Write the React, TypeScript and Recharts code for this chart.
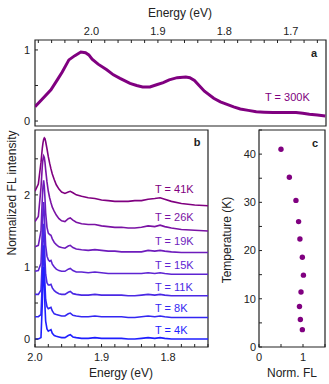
import {
  LineChart,
  Line,
  XAxis,
  YAxis,
  ReferenceArea,
  ScatterChart,
  Scatter,
} from "recharts";

const FONT = '"Liberation Sans", Arial, Helvetica, sans-serif';
const INK = "#222";
const PURPLE = "#800080";

// panel a: room temperature spectrum
const energyA = [
  2.085, 2.075, 2.061, 2.05, 2.044, 2.034, 2.025, 2.016, 2.009, 2.004, 1.999,
  1.99, 1.977, 1.967, 1.957, 1.942, 1.932, 1.923, 1.912, 1.902, 1.892, 1.883,
  1.871, 1.858, 1.852, 1.845, 1.838, 1.83, 1.816, 1.806, 1.796, 1.786, 1.776,
  1.764, 1.752, 1.74, 1.727, 1.71, 1.692, 1.682, 1.672, 1.66, 1.648,
];
const fl300K = [
  0.2, 0.3, 0.44, 0.6, 0.69, 0.86, 0.92, 0.97, 0.96, 0.93, 0.87, 0.8, 0.72,
  0.65, 0.6, 0.53, 0.5, 0.48, 0.48, 0.51, 0.54, 0.58, 0.61, 0.62, 0.61, 0.57,
  0.5, 0.42, 0.32, 0.27, 0.235, 0.2, 0.17, 0.15, 0.13, 0.125, 0.12, 0.12, 0.12,
  0.11, 0.095, 0.085, 0.07,
];
const ticksA = [
  2.08, 2.06, 2.04, 2.02, 2.0, 1.98, 1.96, 1.94, 1.92, 1.9, 1.88, 1.86, 1.84,
  1.82, 1.8, 1.78, 1.76, 1.74, 1.72, 1.7, 1.68, 1.66,
];

// panel b: low temperature spectra (offset)
const energyB = [
  2.0, 1.995, 1.991, 1.989, 1.988, 1.987, 1.986, 1.985, 1.984, 1.982, 1.98,
  1.978, 1.976, 1.974, 1.971, 1.968, 1.964, 1.96, 1.955, 1.95, 1.947, 1.943,
  1.938, 1.93, 1.92, 1.91, 1.9, 1.89, 1.88, 1.87, 1.86, 1.85, 1.84, 1.83, 1.82,
  1.812, 1.805, 1.795, 1.78, 1.76, 1.74,
];
const fl41K = [
  2.05, 2.15, 2.45, 2.65, 2.72, 2.77, 2.79, 2.78, 2.74, 2.64, 2.53, 2.44, 2.36,
  2.29, 2.21, 2.14, 2.08, 2.04, 2.02, 2.04, 2.05, 2.03, 2.0, 1.98, 1.96, 1.95,
  1.93, 1.92, 1.91, 1.91, 1.91, 1.92, 1.92, 1.94, 1.95, 1.96, 1.94, 1.91, 1.88,
  1.86, 1.85,
];
const fl26K = [
  1.63, 1.7, 2.1, 2.4, 2.5, 2.54, 2.52, 2.45, 2.35, 2.18, 2.05, 1.96, 1.89,
  1.83, 1.77, 1.72, 1.67, 1.64, 1.63, 1.67, 1.68, 1.65, 1.62, 1.6, 1.59, 1.59,
  1.57, 1.56, 1.55, 1.55, 1.54, 1.54, 1.55, 1.57, 1.56, 1.58, 1.56, 1.54, 1.52,
  1.51, 1.5,
];
const fl19K = [
  1.28, 1.3, 1.5, 1.95, 2.12, 2.2, 2.12, 1.95, 1.75, 1.55, 1.47, 1.45, 1.44,
  1.39, 1.34, 1.31, 1.28, 1.27, 1.26, 1.29, 1.3, 1.27, 1.25, 1.24, 1.23, 1.24,
  1.23, 1.22, 1.22, 1.21, 1.21, 1.21, 1.21, 1.23, 1.22, 1.23, 1.22, 1.21, 1.2,
  1.2, 1.2,
];
const fl15K = [
  0.94, 0.95, 1.05, 1.5, 1.8, 1.9, 1.75, 1.5, 1.3, 1.15, 1.1, 1.08, 1.09, 1.04,
  1.0, 0.97, 0.95, 0.94, 0.94, 0.97, 0.98, 0.95, 0.93, 0.93, 0.92, 0.93, 0.92,
  0.91, 0.91, 0.91, 0.91, 0.91, 0.91, 0.92, 0.91, 0.92, 0.91, 0.9, 0.9, 0.9,
  0.9,
];
const fl11K = [
  0.62, 0.62, 0.68, 1.1, 1.45, 1.6, 1.4, 1.1, 0.9, 0.78, 0.75, 0.75, 0.76, 0.71,
  0.67, 0.65, 0.63, 0.62, 0.62, 0.65, 0.66, 0.63, 0.62, 0.61, 0.61, 0.62, 0.61,
  0.61, 0.61, 0.61, 0.6, 0.6, 0.61, 0.62, 0.61, 0.62, 0.61, 0.6, 0.6, 0.6, 0.6,
];
const fl8K = [
  0.31, 0.31, 0.34, 0.8, 1.15, 1.3, 1.05, 0.75, 0.55, 0.45, 0.42, 0.43, 0.44,
  0.39, 0.35, 0.34, 0.33, 0.32, 0.32, 0.35, 0.36, 0.33, 0.32, 0.31, 0.31, 0.32,
  0.31, 0.31, 0.31, 0.31, 0.3, 0.3, 0.31, 0.32, 0.31, 0.32, 0.31, 0.3, 0.3, 0.3,
  0.3,
];
const fl4K = [
  0.0, 0.0, 0.02, 0.5, 0.88, 1.0, 0.75, 0.45, 0.25, 0.14, 0.11, 0.12, 0.13,
  0.08, 0.05, 0.04, 0.03, 0.02, 0.02, 0.05, 0.06, 0.03, 0.02, 0.01, 0.01, 0.02,
  0.01, 0.01, 0.01, 0.01, 0.0, 0.0, 0.01, 0.02, 0.01, 0.02, 0.01, 0.0, 0.0, 0.0,
  0.0,
];
const ticksB = [
  2.0, 1.98, 1.96, 1.94, 1.92, 1.9, 1.88, 1.86, 1.84, 1.82, 1.8, 1.78, 1.76,
  1.74,
];

const seriesB = [
  { key: "t41", name: "T = 41K", values: fl41K, color: "#800080", labelY: 189 },
  { key: "t26", name: "T = 26K", values: fl26K, color: "#7a12a4", labelY: 216.5 },
  { key: "t19", name: "T = 19K", values: fl19K, color: "#6e1cbc", labelY: 241 },
  { key: "t15", name: "T = 15K", values: fl15K, color: "#5e24d2", labelY: 265 },
  { key: "t11", name: "T = 11K", values: fl11K, color: "#4a28e4", labelY: 286.5 },
  { key: "t8", name: "T = 8K", values: fl8K, color: "#3326f2", labelY: 307.5 },
  { key: "t4", name: "T = 4K", values: fl4K, color: "#1f1fff", labelY: 330 },
];

// panel c: integrated FL vs temperature
const normFL = [0.5, 0.69, 0.84, 0.9, 0.93, 0.985, 1.01, 0.955, 0.92, 0.94, 0.985];
const tempK = [41, 35.2, 30.4, 26, 22.4, 18.6, 14.9, 11.4, 8.4, 5.7, 3.6];

const dataA = energyA.map((e, i) => ({ e, v: fl300K[i] }));
const dataB = energyB.map((e, i) => {
  const row: Record<string, number> = { e };
  seriesB.forEach((s) => (row[s.key] = s.values[i]));
  return row;
});
const dataC = normFL.map((fl, i) => ({ fl, t: tempK[i] }));

const tickStyle = { fontSize: 11, fill: INK, fontFamily: FONT };

const fmtTenth = (v: number) =>
  Math.abs(v * 10 - Math.round(v * 10)) < 1e-6 ? v.toFixed(1) : "";

const Txt = ({
  x,
  y,
  children,
  color = INK,
  size = 12,
  bold = false,
  rotate = false,
  anchor = "center",
}: {
  x: number;
  y: number;
  children: React.ReactNode;
  color?: string;
  size?: number;
  bold?: boolean;
  rotate?: boolean;
  anchor?: "center" | "left";
}) => (
  <div
    style={{
      position: "absolute",
      left: x,
      top: y,
      transform: `translate(${anchor === "left" ? "0" : "-50%"}, -50%)${
        rotate ? " rotate(-90deg)" : ""
      }`,
      whiteSpace: "nowrap",
      fontSize: size,
      fontWeight: bold ? 700 : 400,
      color,
      lineHeight: 1,
    }}
  >
    {children}
  </div>
);

export default function App() {
  return (
    <div
      style={{
        position: "absolute",
        left: 0,
        top: 0,
        width: 329,
        height: 384,
        background: "#fff",
        fontFamily: FONT,
        overflow: "hidden",
      }}
    >
      {/* panel a */}
      <div style={{ position: "absolute", left: 0, top: 0 }}>
        <LineChart
          width={329}
          height={130}
          data={dataA}
          margin={{ top: 0, right: 3, bottom: 4, left: 0 }}
        >
          <XAxis
            dataKey="e"
            type="number"
            orientation="top"
            reversed
            domain={[1.647, 2.085]}
            allowDataOverflow
            ticks={ticksA}
            interval={0}
            tickFormatter={fmtTenth}
            height={40}
            axisLine={false}
            stroke={INK}
            tickSize={-3}
            tickMargin={8}
            tick={tickStyle}
          />
          <YAxis
            type="number"
            domain={[-0.07, 1.14]}
            allowDataOverflow
            ticks={[0, 0.5, 1]}
            interval={0}
            tickFormatter={(v: number) => (v === 0.5 ? "" : String(v))}
            width={35}
            axisLine={false}
            stroke={INK}
            tickSize={-3}
            tickMargin={8}
            tick={tickStyle}
          />
          <ReferenceArea
            x1={1.647}
            x2={2.085}
            y1={-0.07}
            y2={1.14}
            stroke={INK}
            strokeWidth={1.2}
            fill="none"
            fillOpacity={0}
            ifOverflow="visible"
          />
          <Line
            dataKey="v"
            stroke={PURPLE}
            strokeWidth={3}
            dot={false}
            isAnimationActive={false}
          />
        </LineChart>
      </div>

      {/* panel b */}
      <div style={{ position: "absolute", left: 0, top: 120 }}>
        <LineChart
          width={215}
          height={250}
          data={dataB}
          margin={{ top: 10, right: 7, bottom: 0, left: 0 }}
        >
          <XAxis
            dataKey="e"
            type="number"
            reversed
            domain={[1.74, 2.0]}
            allowDataOverflow
            ticks={ticksB}
            interval={0}
            tickFormatter={fmtTenth}
            height={23}
            axisLine={false}
            stroke={INK}
            tickSize={-3}
            tickMargin={9}
            tick={tickStyle}
          />
          <YAxis
            type="number"
            domain={[-0.11, 2.9]}
            allowDataOverflow
            ticks={[0, 0.5, 1, 1.5, 2, 2.5]}
            interval={0}
            tickFormatter={(v: number) => (Number.isInteger(v) ? String(v) : "")}
            width={35}
            axisLine={false}
            stroke={INK}
            tickSize={-3}
            tickMargin={8}
            tick={tickStyle}
          />
          <ReferenceArea
            x1={1.74}
            x2={2.0}
            y1={-0.11}
            y2={2.9}
            stroke={INK}
            strokeWidth={1.2}
            fill="none"
            fillOpacity={0}
            ifOverflow="visible"
          />
          {seriesB.map((s) => (
            <Line
              key={s.key}
              dataKey={s.key}
              stroke={s.color}
              strokeWidth={1.6}
              dot={false}
              isAnimationActive={false}
            />
          ))}
        </LineChart>
      </div>

      {/* panel c */}
      <div style={{ position: "absolute", left: 215, top: 120 }}>
        <ScatterChart
          width={114}
          height={250}
          margin={{ top: 10, right: 4, bottom: 0, left: 0 }}
        >
          <XAxis
            dataKey="fl"
            type="number"
            domain={[0, 1.5]}
            allowDataOverflow
            ticks={[0, 0.5, 1, 1.5]}
            interval={0}
            tickFormatter={(v: number) => (Number.isInteger(v) && v < 1.5 ? String(v) : "")}
            height={23}
            axisLine={false}
            stroke={INK}
            tickSize={-3}
            tickMargin={9}
            tick={tickStyle}
          />
          <YAxis
            dataKey="t"
            type="number"
            domain={[0, 45]}
            allowDataOverflow
            ticks={[0, 5, 10, 15, 20, 25, 30, 35, 40, 45]}
            interval={0}
            tickFormatter={(v: number) => (v % 10 === 0 ? String(v) : "")}
            width={44}
            axisLine={false}
            stroke={INK}
            tickSize={-3}
            tickMargin={6}
            tick={tickStyle}
          />
          <ReferenceArea
            x1={0}
            x2={1.5}
            y1={0}
            y2={45}
            stroke={INK}
            strokeWidth={1.2}
            fill="none"
            fillOpacity={0}
            ifOverflow="visible"
          />
          <Scatter
            data={dataC}
            fill={PURPLE}
            isAnimationActive={false}
            shape={(p: any) => <circle cx={p.cx} cy={p.cy} r={2.7} fill={PURPLE} />}
          />
        </ScatterChart>
      </div>

      {/* titles and annotations */}
      <Txt x={180} y={13}>Energy (eV)</Txt>
      <Txt x={314} y={53} size={11} bold>a</Txt>
      <Txt x={265} y={97} size={11} color={PURPLE} anchor="left">T = 300K</Txt>

      <Txt x={12} y={193} rotate>Normalized FL intensity</Txt>
      <Txt x={121} y={373}>Energy (eV)</Txt>
      <Txt x={197} y={142} size={11} bold>b</Txt>
      {seriesB.map((s) => (
        <Txt key={s.key} x={155} y={s.labelY} size={11} color={s.color} anchor="left">
          {s.name}
        </Txt>
      ))}

      <Txt x={227} y={240} rotate>Temperature (K)</Txt>
      <Txt x={292} y={373}>Norm. FL</Txt>
      <Txt x={315} y={143} size={11} bold>c</Txt>
    </div>
  );
}
